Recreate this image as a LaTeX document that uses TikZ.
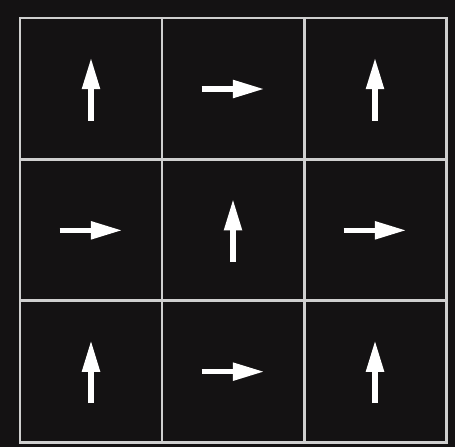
\documentclass[tikz,border=0pt]{standalone}
\usetikzlibrary{arrows.meta}
\definecolor{bgblack}{HTML}{141213}
\definecolor{gridgray}{HTML}{CFCFCF}
\begin{document}
\begin{tikzpicture}[x=0.02cm,y=-0.02cm,
  gridline/.style={draw=gridgray,line width=1.7pt},
  fieldarrow/.style={white,line width=3.2pt,-{Triangle[length=18pt,width=9.6pt]}}]
\fill[bgblack] (0,0) rectangle (455,447);
% grid lines
\draw[gridline] (20,18) rectangle (446,442);
\foreach \k in {1,2} {
  \draw[gridline] ({20+142*\k},18) -- ({20+142*\k},442);
  \draw[gridline] (20,{18+141.33*\k}) -- (446,{18+141.33*\k});
}
% cell centres
\foreach \r in {0,1,2}
  \foreach \c in {0,1,2}
    \coordinate (cell-\r-\c) at ({91+142*\c},{89+141.33*\r});
% arrows: up on even cells, right on odd cells
\foreach \r in {0,1,2}
  \foreach \c in {0,1,2} {
    \pgfmathtruncatemacro\odd{mod(\r+\c,2)}
    \ifnum\odd=0
      \draw[fieldarrow] ([shift={(0,31.5)}]cell-\r-\c) -- ([shift={(0,-31.5)}]cell-\r-\c);
    \else
      \draw[fieldarrow] ([shift={(-31.5,0)}]cell-\r-\c) -- ([shift={(31.5,0)}]cell-\r-\c);
    \fi
  }
\end{tikzpicture}
\end{document}
